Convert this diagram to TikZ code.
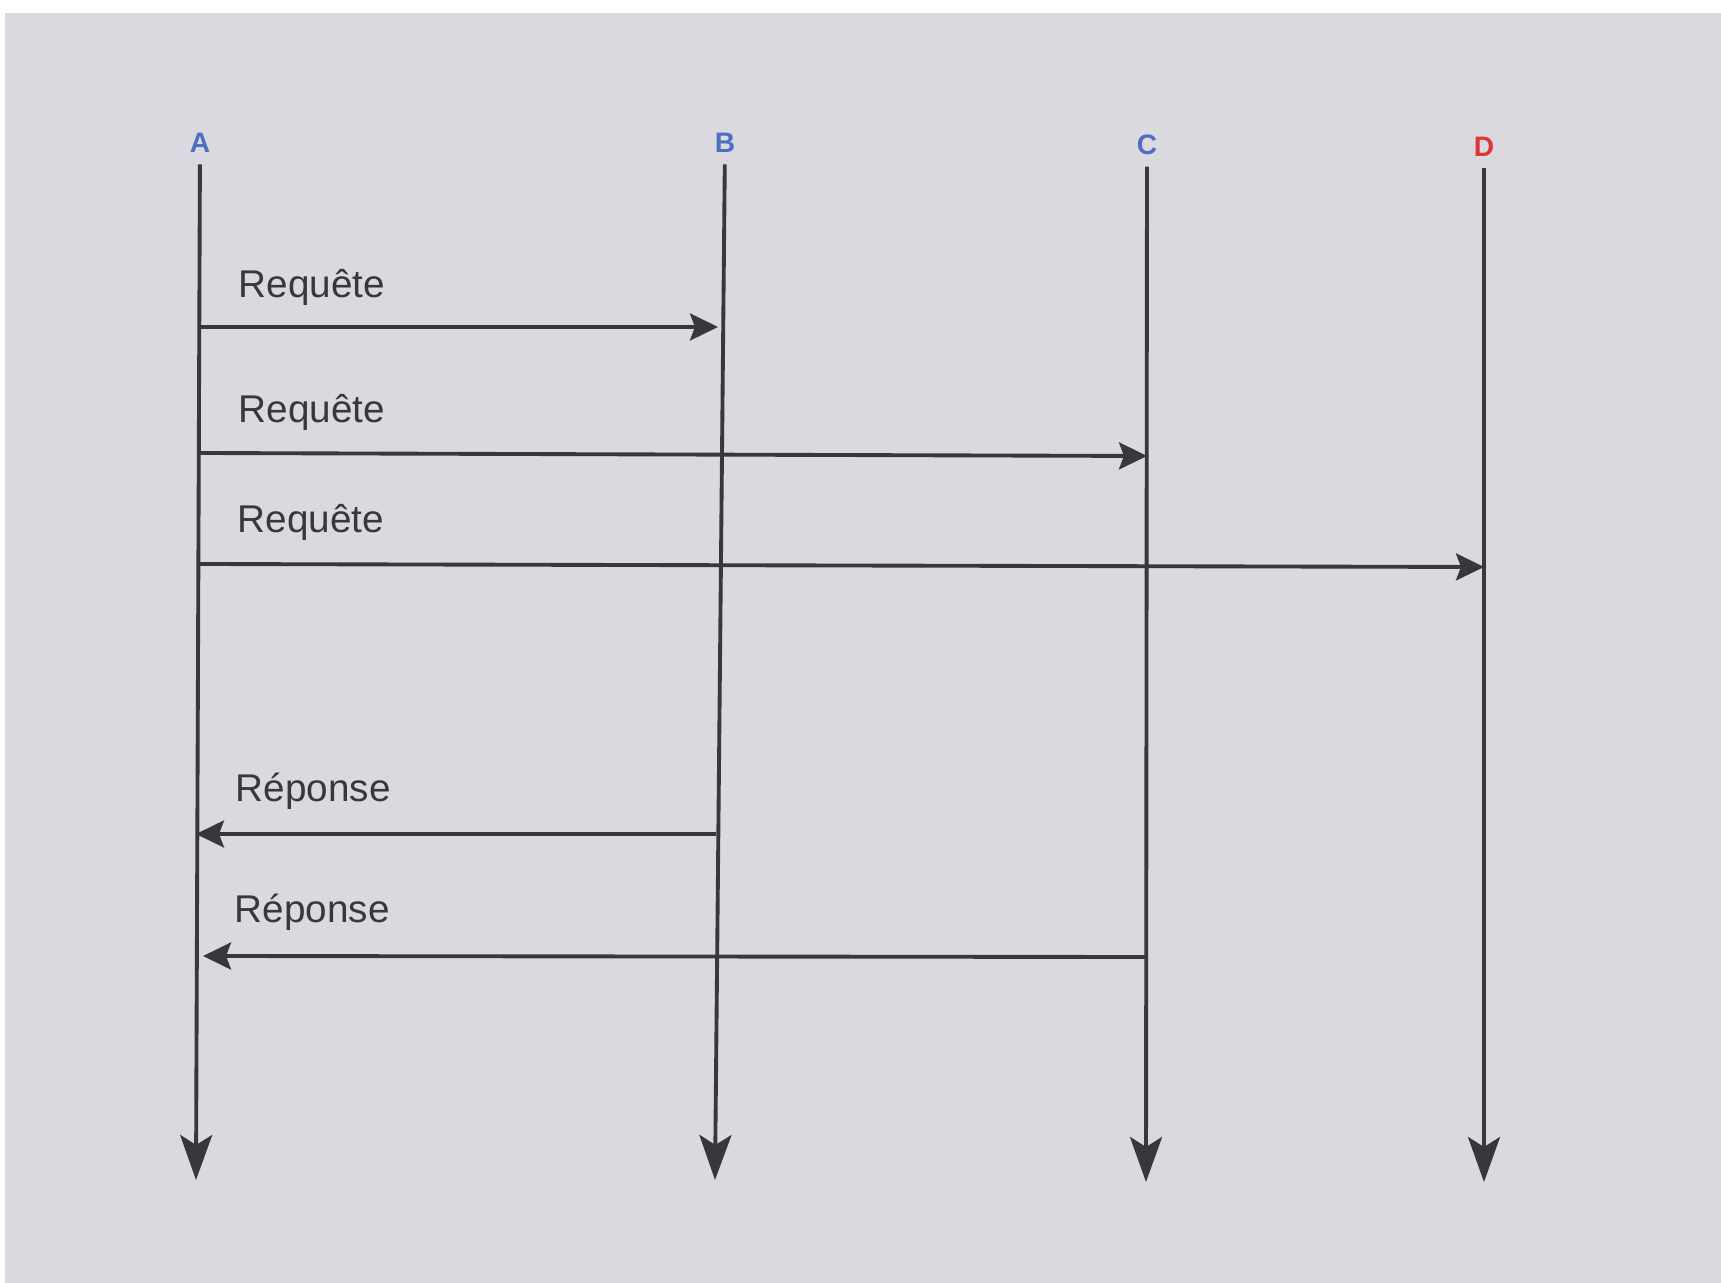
\documentclass[tikz,border=0pt]{standalone}
\usepackage{fontspec}
\setmainfont{Liberation Sans}
\usetikzlibrary{arrows.meta}
\definecolor{papier}{RGB}{217,217,223}
\definecolor{trait}{RGB}{56,56,60}
\definecolor{bleu}{RGB}{78,110,192}
\definecolor{rouge}{RGB}{226,52,52}
\newcommand{\req}{Requête}
\newcommand{\rep}{Réponse}
\tikzset{
  site/.style={inner sep=0pt, font=\bfseries\fontsize{8}{8}\selectfont},
  lbl/.style={inner sep=0pt, anchor=base west, text=trait, font=\fontsize{11}{11}\selectfont},
  vie/.style={draw=trait, line width=1.1pt, shorten <=0.11cm,
    -{Stealth[length=0.45cm, width=0.32cm, inset=0.1cm]}},
  msg/.style={draw=trait, line width=1.1pt,
    -{Stealth[length=0.28cm, width=0.27cm, inset=0.05cm]}}
}

\begin{document}
\begin{tikzpicture}[x=0.01cm, y=-0.01cm]
		% page
		\fill[white] (0,0) rectangle (1721,1283);
		\fill[papier] (5,13) rectangle (1721,1283);
		% sites
		\node[site, text=bleu] (A) at (200,143) {A};
		\node[site, text=bleu] (B) at (725,143) {B};
		\node[site, text=bleu] (C) at (1147,145) {C};
		\node[site, text=rouge] (D) at (1484,147) {D};
		\coordinate (a9) at (196,1180);
		\coordinate (b9) at (715,1180);
		\coordinate (c9) at (1146,1182);
		\coordinate (d9) at (1484,1182);
		\draw[vie] (A) -- (a9);
		\draw[vie] (B) -- (b9);
		\draw[vie] (C) -- (c9);
		\draw[vie] (D) -- (d9);
		% messages
		\coordinate (a1) at (199,327);
		\coordinate (b1) at (718,327);
		\coordinate (a2) at (199,453);
		\coordinate (c2) at (1147,456);
		\coordinate (a3) at (199,564);
		\coordinate (d3) at (1484,567);
		\coordinate (b4) at (716,834);
		\coordinate (a4) at (196,834);
		\coordinate (c5) at (1146,957);
		\coordinate (a5) at (203,956);
		\node[lbl] (r1) at (238,298) {\req};
		\node[lbl] (r2) at (238,423) {\req};
		\node[lbl] (r3) at (237,533) {\req};
		\node[lbl] (p1) at (235,802) {\rep};
		\node[lbl] (p2) at (234,923) {\rep};
		\draw (a1) edge[msg] (b1);
		\draw (a2) edge[msg] (c2);
		\draw (a3) edge[msg] (d3);
		\draw (b4) edge[msg] (a4);
		\draw (c5) edge[msg] (a5);
\end{tikzpicture}
\end{document}
